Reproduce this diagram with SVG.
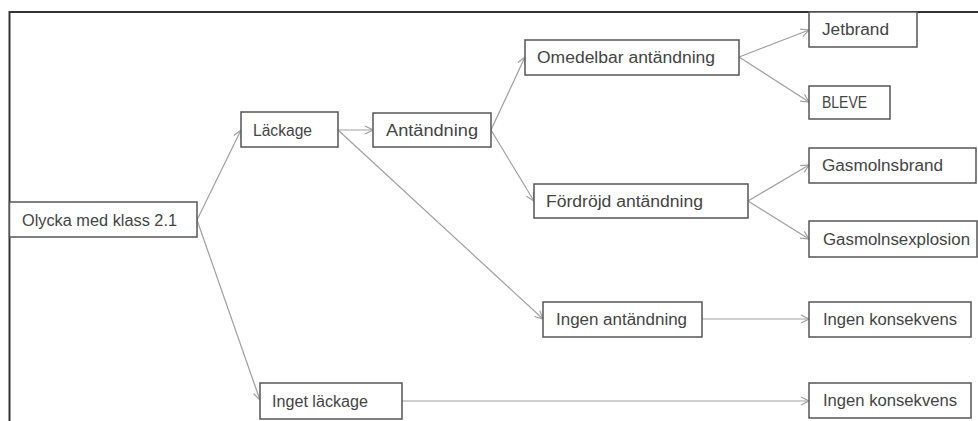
<svg xmlns="http://www.w3.org/2000/svg" width="978" height="421" viewBox="0 0 978 421">
<style>
.box{fill:#fff;stroke:#555;stroke-width:1.5}
.t{font-family:"Liberation Sans",Arial,sans-serif;font-size:16px;fill:#444}
.c{stroke:#a0a0a0;stroke-width:1.2;fill:none;marker-end:url(#ah)}
</style>
<defs>
<marker id="ah" markerWidth="10" markerHeight="10" refX="9" refY="5" orient="auto" markerUnits="userSpaceOnUse">
<path d="M1,1 L9,5 L1,9" fill="none" stroke="#a0a0a0" stroke-width="1.2"/>
</marker>
</defs>
<rect x="0" y="0" width="978" height="421" fill="#fff"/>
<path d="M9.5,430 L9.5,12 L990,12" fill="none" stroke="#333" stroke-width="2"/>
<g id="connectors">
<line class="c" x1="197" y1="220" x2="241" y2="130"/>
<line class="c" x1="197" y1="220" x2="260" y2="400"/>
<line class="c" x1="338" y1="130" x2="373" y2="130"/>
<line class="c" x1="338" y1="130" x2="543" y2="319"/>
<line class="c" x1="491" y1="130" x2="525" y2="57"/>
<line class="c" x1="491" y1="130" x2="534" y2="201"/>
<line class="c" x1="739" y1="57" x2="809" y2="30"/>
<line class="c" x1="739" y1="57" x2="809" y2="102"/>
<line class="c" x1="748" y1="201" x2="809" y2="165"/>
<line class="c" x1="748" y1="201" x2="809" y2="239"/>
<line class="c" x1="702" y1="319" x2="809" y2="319"/>
<line class="c" x1="402" y1="401" x2="809" y2="401"/>
</g>
<g id="olycka"><rect class="box" x="9.5" y="202" width="187.5" height="35"/><text class="t" x="22" y="225.5" textLength="155" lengthAdjust="spacingAndGlyphs">Olycka med klass 2.1</text></g>
<g id="lackage"><rect class="box" x="241" y="112" width="97" height="35"/><text class="t" x="253" y="135.5" textLength="59" lengthAdjust="spacingAndGlyphs">Läckage</text></g>
<g id="antandning"><rect class="box" x="373" y="113" width="118" height="34"/><text class="t" x="386" y="136" textLength="92" lengthAdjust="spacingAndGlyphs">Antändning</text></g>
<g id="omedelbar"><rect class="box" x="525" y="40" width="214" height="35"/><text class="t" x="537" y="63" textLength="178" lengthAdjust="spacingAndGlyphs">Omedelbar antändning</text></g>
<g id="jetbrand"><rect class="box" x="809" y="12" width="108" height="35"/><text class="t" x="822" y="35" textLength="67" lengthAdjust="spacingAndGlyphs">Jetbrand</text></g>
<g id="bleve"><rect class="box" x="809" y="86" width="81" height="33"/><text class="t" x="822" y="108" textLength="45" lengthAdjust="spacingAndGlyphs">BLEVE</text></g>
<g id="fordrojd"><rect class="box" x="534" y="184" width="214" height="34"/><text class="t" x="546" y="207" textLength="157" lengthAdjust="spacingAndGlyphs">Fördröjd antändning</text></g>
<g id="gasmolnsbrand"><rect class="box" x="809" y="148" width="167" height="35"/><text class="t" x="822" y="171" textLength="121" lengthAdjust="spacingAndGlyphs">Gasmolnsbrand</text></g>
<g id="gasmolnsexplosion"><rect class="box" x="809" y="221" width="168" height="36"/><text class="t" x="823" y="245" textLength="147" lengthAdjust="spacingAndGlyphs">Gasmolnsexplosion</text></g>
<g id="ingenantandning"><rect class="box" x="543" y="302" width="159" height="35"/><text class="t" x="556" y="325" textLength="131" lengthAdjust="spacingAndGlyphs">Ingen antändning</text></g>
<g id="ingenkonsekvens1"><rect class="box" x="809" y="302" width="162" height="35"/><text class="t" x="823" y="325" textLength="134" lengthAdjust="spacingAndGlyphs">Ingen konsekvens</text></g>
<g id="ingetlackage"><rect class="box" x="260" y="383" width="142" height="36"/><text class="t" x="272" y="406.5" textLength="96" lengthAdjust="spacingAndGlyphs">Inget läckage</text></g>
<g id="ingenkonsekvens2"><rect class="box" x="809" y="383" width="162" height="35"/><text class="t" x="823" y="406" textLength="134" lengthAdjust="spacingAndGlyphs">Ingen konsekvens</text></g>
</svg>
